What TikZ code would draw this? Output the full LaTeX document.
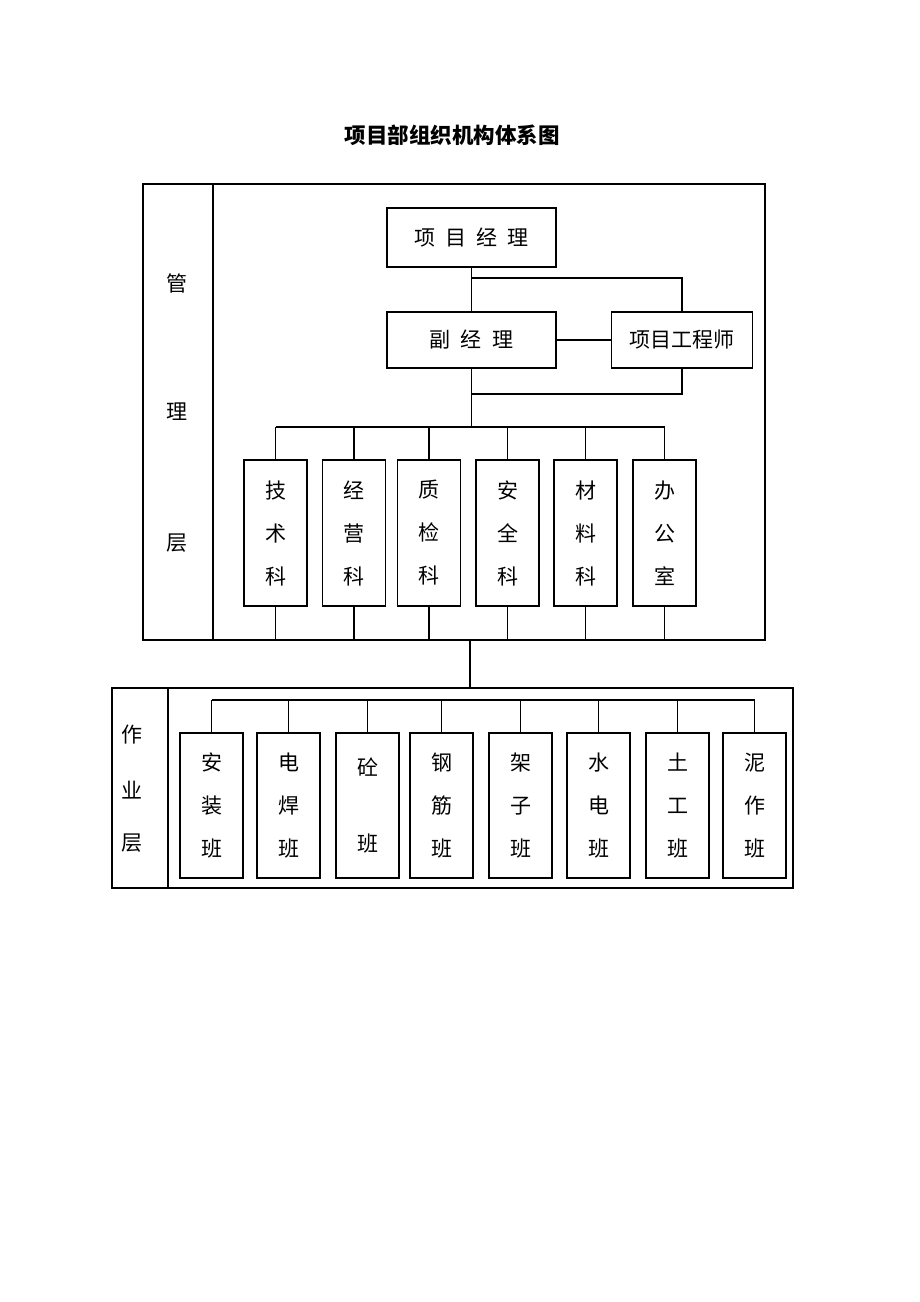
\documentclass[tikz,border=0pt]{standalone}
\usepackage{fontspec}
\setmainfont{Noto Sans CJK SC}
\begin{document}
\begin{tikzpicture}[x=1pt,y=-1pt,
  every node/.style={inner sep=0pt,outer sep=0pt},
  box/.style={draw,line width=1.1pt,minimum width=#1,anchor=center},
  lbl/.style={font=\fontsize{21}{43}\selectfont,align=center},
  ln/.style={line width=1.1pt}]
\useasboundingbox (0,0) rectangle (920,1302);
\fill[white] (0,0) rectangle (920,1302);
% title
\node[font=\fontsize{21.5}{24}\selectfont\bfseries] (title) at (452,135) {项目部组织机构体系图};
% management frame
\node[box=622pt,minimum height=456pt] (mgmt) at (454,412) {};
\coordinate (mdiv) at (213,184);
\draw[ln] (mdiv) -- (mdiv |- mgmt.south);
\node[lbl] (g1) at (177,283) {管};
\node[lbl] (g2) at (177,412) {理};
\node[lbl] (g3) at (177,543) {层};
% top
\node[box=169pt,minimum height=59pt,lbl] (pm) at (471.5,237.5) {项\hspace{10pt}目\hspace{10pt}经\hspace{10pt}理};
\node[box=169pt,minimum height=56pt,lbl] (vpm) at (471.5,340) {副\hspace{11pt}经\hspace{11pt}理};
\node[box=141pt,minimum height=56pt,lbl] (eng) at (682,340) {项目工程师};
\coordinate (j1) at (471.5,278);
\coordinate (j2) at (471.5,394);
\coordinate (bus1) at (471.5,427);
\draw[ln] (pm.south) -- (vpm.north);
\draw[ln] (j1) -| (eng.north);
\draw[ln] (vpm.east) -- (eng.west);
\draw[ln] (vpm.south) -- (bus1);
\draw[ln] (eng.south) |- (j2);
% departments
\foreach \n/\x/\t in {d1/275.5/技\\术\\科, d2/354/经\\营\\科, d3/429/质\\检\\科, d4/507.5/安\\全\\科, d5/585.5/材\\料\\科, d6/664.5/办\\公\\室}{
  \node[box=63pt,minimum height=146pt,lbl] (\n) at (\x,533) {\t};
  \draw[ln] (\n.north) -- (\n.north |- bus1);
  \draw[ln] (\n.south) -- (\n.south |- mgmt.south);
}
\draw[ln] (d1.north |- bus1) -- (d6.north |- bus1);
% work frame
\node[box=681pt,minimum height=200pt] (work) at (452.5,788) {};
\coordinate (c1) at (470,640);
\draw[ln] (c1) -- (c1 |- work.north);
\coordinate (wdiv) at (168,688);
\draw[ln] (wdiv) -- (wdiv |- work.south);
\node[lbl] (z1) at (132,735) {作};
\node[lbl] (z2) at (132,790) {业};
\node[lbl] (z3) at (132,843) {层};
\coordinate (bus2) at (483,700);
\foreach \n/\x/\t in {w1/211.5/安\\装\\班, w2/288.5/电\\焊\\班, w3/367.5/砼\\[33pt]班, w4/441.5/钢\\筋\\班, w5/520.5/架\\子\\班, w6/598.5/水\\电\\班, w7/677.5/土\\工\\班, w8/754.5/泥\\作\\班}{
  \node[box=63pt,minimum height=145pt,lbl] (\n) at (\x,805.5) {\t};
  \draw[ln] (\n.north) -- (\n.north |- bus2);
}
\draw[ln] (w1.north |- bus2) -- (w8.north |- bus2);
\end{tikzpicture}
\end{document}
